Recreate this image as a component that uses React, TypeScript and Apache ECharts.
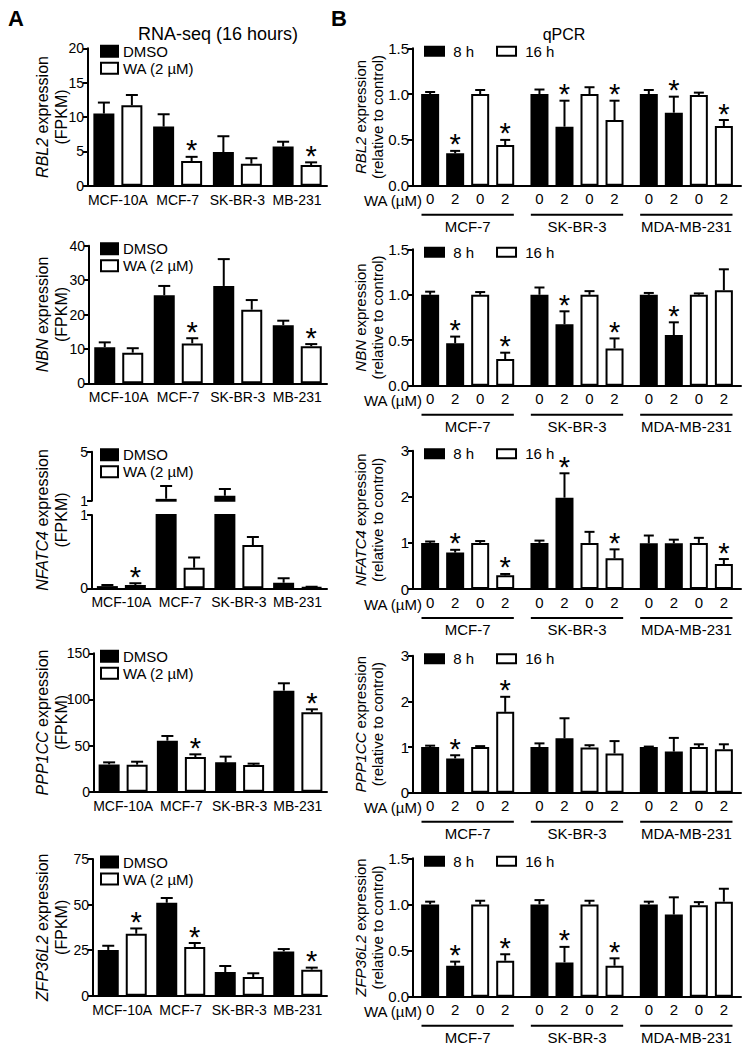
import React, { useEffect, useRef } from "react";
import * as echarts from "echarts";

const FONT = "'Liberation Sans', Arial, Helvetica, sans-serif";

// ---------------- Panel A : RNA-seq (16 hours), FPKM ----------------
const RNA_CELLS = ["MCF-10A", "MCF-7", "SK-BR-3", "MB-231"];
const RNA_GROUPS = ["DMSO", "WA (2 µM)"];
const RNA_GENES = ["RBL2", "NBN", "NFATC4", "PPP1CC", "ZFP36L2"];

const RNA_RBL2_DMSO = [10.5, 8.6, 4.9, 5.7];
const RNA_RBL2_DMSO_SEM = [1.6, 1.8, 2.3, 0.7];
const RNA_RBL2_WA = [11.7, 3.6, 3.2, 3.0];
const RNA_RBL2_WA_SEM = [1.5, 0.6, 0.8, 0.4];
const RNA_RBL2_SIG = [0, 1, 0, 1];

const RNA_NBN_DMSO = [10.5, 25.6, 28.3, 16.9];
const RNA_NBN_DMSO_SEM = [1.4, 2.7, 7.8, 1.3];
const RNA_NBN_WA = [8.9, 11.6, 21.4, 10.8];
const RNA_NBN_WA_SEM = [1.3, 1.5, 2.8, 0.6];
const RNA_NBN_SIG = [0, 1, 0, 1];

const RNA_NFATC4_DMSO = [0.03, 1.15, 1.4, 0.076];
const RNA_NFATC4_DMSO_SEM = [0.015, 1.05, 0.55, 0.06];
const RNA_NFATC4_WA = [0.045, 0.28, 0.59, 0.015];
const RNA_NFATC4_WA_SEM = [0.025, 0.14, 0.11, 0.005];
const RNA_NFATC4_SIG = [1, 0, 0, 0];

const RNA_PPP1CC_DMSO = [29.6, 55.3, 31.8, 109.5];
const RNA_PPP1CC_DMSO_SEM = [2.2, 5.1, 6.2, 8.0];
const RNA_PPP1CC_WA = [29.3, 37.6, 28.9, 86.0];
const RNA_PPP1CC_WA_SEM = [3.2, 2.9, 1.5, 3.3];
const RNA_PPP1CC_SIG = [0, 1, 0, 1];

const RNA_ZFP36L2_DMSO = [25.1, 51.0, 13.0, 24.3];
const RNA_ZFP36L2_DMSO_SEM = [2.3, 2.6, 3.3, 1.3];
const RNA_ZFP36L2_WA = [34.0, 26.7, 10.2, 14.3];
const RNA_ZFP36L2_WA_SEM = [2.9, 2.2, 2.1, 1.1];
const RNA_ZFP36L2_SIG = [1, 1, 0, 1];

const RNA_Y_MAX = [20, 40, 1, 150, 75];
const RNA_Y_STEP = [5, 10, 1, 50, 25];
const RNA_NFATC4_UPPER_TICKS = [1, 5];
const RNA_UNIT = "(FPKM)";

// ---------------- Panel B : qPCR (relative to control) ----------------
const QPCR_CELLS = ["MCF-7", "SK-BR-3", "MDA-MB-231"];
const QPCR_TIMES = ["8 h", "8 h", "16 h", "16 h"];
const QPCR_DOSES = ["0", "2", "0", "2"];
const QPCR_GENES = ["RBL2", "NBN", "NFATC4", "PPP1CC", "ZFP36L2"];
const QPCR_UNIT = "(relative to control)";

// rows: 8 h / 0 µM, 8 h / 2 µM, 16 h / 0 µM, 16 h / 2 µM ; columns: cell lines
const QPCR_RBL2_MEAN = [[1.0, 1.0, 1.0], [0.353, 0.644, 0.797], [1.0, 1.0, 0.99], [0.444, 0.717, 0.652]];
const QPCR_RBL2_SEM = [[0.023, 0.05, 0.045], [0.027, 0.284, 0.175], [0.045, 0.075, 0.026], [0.056, 0.211, 0.065]];
const QPCR_RBL2_SIG = [[0, 0, 0], [1, 1, 1], [0, 0, 0], [1, 1, 1]];

const QPCR_NBN_MEAN = [[1.0, 1.0, 1.0], [0.466, 0.675, 0.557], [1.0, 1.0, 1.0], [0.293, 0.41, 1.05]];
const QPCR_NBN_SEM = [[0.034, 0.08, 0.02], [0.074, 0.143, 0.14], [0.03, 0.04, 0.015], [0.07, 0.11, 0.23]];
const QPCR_NBN_SIG = [[0, 0, 0], [1, 1, 1], [0, 0, 0], [1, 1, 0]];

const QPCR_NFATC4_MEAN = [[1.0, 1.0, 0.99], [0.79, 1.98, 0.99], [1.0, 1.0, 1.0], [0.296, 0.665, 0.54]];
const QPCR_NFATC4_SEM = [[0.03, 0.05, 0.17], [0.06, 0.53, 0.08], [0.04, 0.24, 0.11], [0.03, 0.195, 0.11]];
const QPCR_NFATC4_SIG = [[0, 0, 0], [1, 1, 0], [0, 0, 0], [1, 1, 1]];

const QPCR_PPP1CC_MEAN = [[1.0, 1.0, 1.0], [0.75, 1.19, 0.9], [1.0, 0.99, 1.0], [1.77, 0.86, 0.95]];
const QPCR_PPP1CC_SEM = [[0.03, 0.08, 0.01], [0.07, 0.44, 0.3], [0.02, 0.05, 0.06], [0.33, 0.27, 0.11]];
const QPCR_PPP1CC_SIG = [[0, 0, 0], [1, 0, 0], [0, 0, 0], [1, 0, 0]];

const QPCR_ZFP36L2_MEAN = [[1.0, 1.0, 1.0], [0.336, 0.372, 0.89], [1.0, 1.0, 0.99], [0.39, 0.336, 1.03]];
const QPCR_ZFP36L2_SEM = [[0.03, 0.047, 0.03], [0.044, 0.168, 0.187], [0.04, 0.04, 0.035], [0.07, 0.08, 0.14]];
const QPCR_ZFP36L2_SIG = [[0, 0, 0], [1, 1, 0], [0, 0, 0], [1, 1, 0]];

const QPCR_Y_MAX = [1.5, 1.5, 3, 3, 1.5];
const QPCR_Y_STEP = [0.5, 0.5, 1, 1, 0.5];

// ---------------- layout (pixels) ----------------
const A_RIGHT = 327;
const A_NAME_X = [42, 61];
const A_LAYOUT = [
  { left: 88, top: 48.3, bottom: 185.7 },
  { left: 89, top: 245.7, bottom: 383.3 },
  { left: 92, top: 451.7, bottom: 588.3, upperBottom: 500.7, lowerTop: 515 },
  { left: 94, top: 653.3, bottom: 791.7 },
  { left: 93, top: 859, bottom: 995.7 },
];
const B_LEFT = 413;
const B_RIGHT = 741;
const B_NAME_X = [360, 377];
const B_LAYOUT = [
  { top: 48.3, bottom: 185.7 },
  { top: 249.3, bottom: 385.7 },
  { top: 450.7, bottom: 589 },
  { top: 655.7, bottom: 792.7 },
  { top: 858.3, bottom: 996.7 },
];

const A_BAR_W = 21;
const A_BAR_GAP = 0.333;
const B_BAR_W = 18;
const B_BAR_GAP = 0.39;

const AX_LINE = { show: true, onZero: false, lineStyle: { color: "#000", width: 2 } };
const Y_TICK = { show: true, length: 5, lineStyle: { color: "#000", width: 2 } };

function vText(text: string, x: number, y: number, size: number) {
  return {
    type: "text",
    x,
    y,
    rotation: Math.PI / 2,
    silent: true,
    style: {
      text,
      fill: "#000",
      fontFamily: FONT,
      fontSize: size,
      align: "center",
      verticalAlign: "middle",
      rich: {
        i: { fontStyle: "italic", fill: "#000", fontFamily: FONT, fontSize: size },
      },
    },
  };
}

function errSeries(xi: number, yi: number, means: number[], sems: number[], sig: number[], offset: number, capHalf: number, clip: boolean) {
  return {
    type: "custom",
    name: "sem",
    xAxisIndex: xi,
    yAxisIndex: yi,
    clip,
    silent: true,
    z: 5,
    data: means.map((m, i) => [i, m, sems[i], sig[i]]),
    renderItem: (_p: any, api: any) => {
      const c = api.value(0);
      const m = api.value(1);
      const e = api.value(2);
      const s = api.value(3);
      const p0 = api.coord([c, m]);
      const p1 = api.coord([c, m + e]);
      const x = p0[0] + offset;
      const st = { stroke: "#000", lineWidth: 2 };
      const children: any[] = [
        { type: "line", shape: { x1: x, y1: p0[1], x2: x, y2: p1[1] }, style: st },
        { type: "line", shape: { x1: x - capHalf, y1: p1[1], x2: x + capHalf, y2: p1[1] }, style: st },
      ];
      if (s) {
        children.push({
          type: "text",
          x,
          y: p1[1] + 8,
          style: {
            text: "*",
            fill: "#000",
            fontSize: 29,
            fontFamily: FONT,
            align: "center",
            verticalAlign: "bottom",
          },
        });
      }
      return { type: "group", children };
    },
  };
}

function buildOption() {
  const grid: any[] = [];
  const xAxis: any[] = [];
  const yAxis: any[] = [];
  const series: any[] = [];
  const legend: any[] = [];
  const graphic: any[] = [];

  const addGrid = (left: number, right: number, top: number, bottom: number) => {
    grid.push({ left, top, width: right - left, height: bottom - top, containLabel: false });
    return grid.length - 1;
  };

  const aBar = (name: string, data: any[], xi: number, yi: number, black: boolean) => ({
    type: "bar",
    name,
    xAxisIndex: xi,
    yAxisIndex: yi,
    data,
    barWidth: A_BAR_W,
    barGap: `${A_BAR_GAP * 100}%`,
    itemStyle: { color: black ? "#000" : "#fff", borderColor: "#000", borderWidth: 2 },
  });

  const aOff = (A_BAR_W * (1 + A_BAR_GAP)) / 2;

  // ---------------- Panel A ----------------
  const rna = [
    [RNA_RBL2_DMSO, RNA_RBL2_DMSO_SEM, RNA_RBL2_WA, RNA_RBL2_WA_SEM, RNA_RBL2_SIG],
    [RNA_NBN_DMSO, RNA_NBN_DMSO_SEM, RNA_NBN_WA, RNA_NBN_WA_SEM, RNA_NBN_SIG],
    [RNA_NFATC4_DMSO, RNA_NFATC4_DMSO_SEM, RNA_NFATC4_WA, RNA_NFATC4_WA_SEM, RNA_NFATC4_SIG],
    [RNA_PPP1CC_DMSO, RNA_PPP1CC_DMSO_SEM, RNA_PPP1CC_WA, RNA_PPP1CC_WA_SEM, RNA_PPP1CC_SIG],
    [RNA_ZFP36L2_DMSO, RNA_ZFP36L2_DMSO_SEM, RNA_ZFP36L2_WA, RNA_ZFP36L2_WA_SEM, RNA_ZFP36L2_SIG],
  ];

  rna.forEach((row, r) => {
    const [dmso, dmsoSem, wa, waSem, sig] = row;
    const L: any = A_LAYOUT[r];
    const xLabel = { color: "#000", fontFamily: FONT, fontSize: 14, margin: 7, interval: 0 };
    const yLabel = { color: "#000", fontFamily: FONT, fontSize: 14, lineHeight: 14, margin: 4 };
    const midY = (L.top + L.bottom) / 2;
    graphic.push(vText(`{i|${RNA_GENES[r]}} expression`, A_NAME_X[0], midY, 16));
    graphic.push(vText(RNA_UNIT, A_NAME_X[1], midY, 16));

    if (L.upperBottom) {
      // broken axis: lower part 0..1
      const gl = addGrid(L.left, A_RIGHT, L.lowerTop, L.bottom);
      xAxis.push({ gridIndex: gl, type: "category", data: RNA_CELLS, axisLine: AX_LINE, axisTick: { show: false }, axisLabel: xLabel });
      yAxis.push({
        gridIndex: gl, type: "value", min: 0, max: RNA_Y_MAX[r], interval: RNA_Y_STEP[r],
        splitLine: { show: false }, axisLine: AX_LINE, axisTick: Y_TICK, axisLabel: yLabel,
      });
      const xl = xAxis.length - 1;
      const yl = yAxis.length - 1;
      series.push(aBar(RNA_GROUPS[0], dmso, xl, yl, true));
      series.push(aBar(RNA_GROUPS[1], wa, xl, yl, false));
      series.push(errSeries(xl, yl, dmso, dmsoSem, sig.map(() => 0), -aOff, 6, true));
      series.push(errSeries(xl, yl, wa, waSem, sig, aOff, 6, true));

      // upper part 1..5
      const gu = addGrid(L.left, A_RIGHT, L.top, L.upperBottom);
      xAxis.push({ gridIndex: gu, type: "category", data: RNA_CELLS, show: false });
      yAxis.push({
        gridIndex: gu, type: "value",
        min: RNA_NFATC4_UPPER_TICKS[0], max: RNA_NFATC4_UPPER_TICKS[RNA_NFATC4_UPPER_TICKS.length - 1],
        splitLine: { show: false }, axisLine: AX_LINE,
        axisTick: { ...Y_TICK, customValues: RNA_NFATC4_UPPER_TICKS },
        axisLabel: { ...yLabel, customValues: RNA_NFATC4_UPPER_TICKS },
      });
      const xu = xAxis.length - 1;
      const yu = yAxis.length - 1;
      const lowMax = RNA_Y_MAX[r];
      series.push(aBar(RNA_GROUPS[0], dmso.map((v) => (v > lowMax ? v : "-")), xu, yu, true));
      series.push(aBar(RNA_GROUPS[1], wa.map((v) => (v > lowMax ? v : "-")), xu, yu, false));
      series.push(errSeries(xu, yu, dmso, dmsoSem, sig.map(() => 0), -aOff, 6, true));
      series.push(errSeries(xu, yu, wa, waSem, sig.map(() => 0), aOff, 6, true));
    } else {
      const g = addGrid(L.left, A_RIGHT, L.top, L.bottom);
      xAxis.push({ gridIndex: g, type: "category", data: RNA_CELLS, axisLine: AX_LINE, axisTick: { show: false }, axisLabel: xLabel });
      yAxis.push({
        gridIndex: g, type: "value", min: 0, max: RNA_Y_MAX[r], interval: RNA_Y_STEP[r],
        splitLine: { show: false }, axisLine: AX_LINE, axisTick: Y_TICK, axisLabel: yLabel,
      });
      const xi = xAxis.length - 1;
      const yi = yAxis.length - 1;
      series.push(aBar(RNA_GROUPS[0], dmso, xi, yi, true));
      series.push(aBar(RNA_GROUPS[1], wa, xi, yi, false));
      series.push(errSeries(xi, yi, dmso, dmsoSem, sig.map(() => 0), -aOff, 6, false));
      series.push(errSeries(xi, yi, wa, waSem, sig, aOff, 6, false));
    }

    legend.push({
      left: 100, top: L.top - 5, orient: "vertical", icon: "rect",
      itemWidth: 17, itemHeight: 11, itemGap: 1, padding: 0, selectedMode: false,
      data: RNA_GROUPS,
      textStyle: { color: "#000", fontFamily: FONT, fontSize: 15, lineHeight: 16 },
    });
  });

  // ---------------- Panel B ----------------
  const qpcr = [
    [QPCR_RBL2_MEAN, QPCR_RBL2_SEM, QPCR_RBL2_SIG],
    [QPCR_NBN_MEAN, QPCR_NBN_SEM, QPCR_NBN_SIG],
    [QPCR_NFATC4_MEAN, QPCR_NFATC4_SEM, QPCR_NFATC4_SIG],
    [QPCR_PPP1CC_MEAN, QPCR_PPP1CC_SEM, QPCR_PPP1CC_SIG],
    [QPCR_ZFP36L2_MEAN, QPCR_ZFP36L2_SEM, QPCR_ZFP36L2_SIG],
  ];
  const bPitch = B_BAR_W * (1 + B_BAR_GAP);

  qpcr.forEach((row, r) => {
    const [mean, sem, sig] = row;
    const L = B_LAYOUT[r];
    const g = addGrid(B_LEFT, B_RIGHT, L.top, L.bottom);
    const dec = QPCR_Y_STEP[r] < 1 ? 1 : 0;
    const midY = (L.top + L.bottom) / 2;
    graphic.push(vText(`{i|${QPCR_GENES[r]}} expression`, B_NAME_X[0], midY, 15));
    graphic.push(vText(QPCR_UNIT, B_NAME_X[1], midY, 15));

    xAxis.push({
      gridIndex: g, type: "category", data: QPCR_CELLS, axisLine: AX_LINE, axisTick: { show: false },
      axisLabel: { color: "#000", fontFamily: FONT, fontSize: 15, margin: 33, interval: 0 },
    });
    yAxis.push({
      gridIndex: g, type: "value", min: 0, max: QPCR_Y_MAX[r], interval: QPCR_Y_STEP[r],
      splitLine: { show: false }, axisLine: AX_LINE, axisTick: Y_TICK,
      axisLabel: { color: "#000", fontFamily: FONT, fontSize: 15, lineHeight: 14, margin: 4, formatter: (v: number) => v.toFixed(dec) },
    });
    const xi = xAxis.length - 1;
    const yi = yAxis.length - 1;
    mean.forEach((vals: number[], k: number) => {
      series.push({
        type: "bar",
        name: QPCR_TIMES[k],
        xAxisIndex: xi,
        yAxisIndex: yi,
        data: vals,
        barWidth: B_BAR_W,
        barGap: `${B_BAR_GAP * 100}%`,
        itemStyle: { color: k < 2 ? "#000" : "#fff", borderColor: "#000", borderWidth: 2 },
        label: {
          show: true, position: "bottom", distance: 6, formatter: QPCR_DOSES[k],
          color: "#000", fontFamily: FONT, fontSize: 15, lineHeight: 14,
        },
      });
    });
    mean.forEach((vals: number[], k: number) => {
      series.push(errSeries(xi, yi, vals, sem[k], sig[k], (k - 1.5) * bPitch, 5, false));
    });
    // group underline
    series.push({
      type: "custom",
      name: "underline",
      xAxisIndex: xi,
      yAxisIndex: yi,
      silent: true,
      clip: false,
      data: QPCR_CELLS.map((_c, i) => [i, 0]),
      renderItem: (_p: any, api: any) => {
        const c = api.coord([api.value(0), 0]);
        const bw = api.size([1, 0])[0];
        const half = bw / 2 - 8.5;
        const y = c[1] + 29;
        return { type: "line", shape: { x1: c[0] - half, y1: y, x2: c[0] + half, y2: y }, style: { stroke: "#000", lineWidth: 2 } };
      },
    });
    legend.push({
      left: 424, top: L.top - 5, orient: "horizontal", icon: "rect",
      itemWidth: 19, itemHeight: 9, itemGap: 22, padding: 0, selectedMode: false,
      data: ["8 h", "16 h"],
      formatter: (n: string) => " " + n,
      textStyle: { color: "#000", fontFamily: FONT, fontSize: 15, lineHeight: 16 },
    });
    graphic.push({
      type: "text", x: 422, y: L.bottom + 15,
      style: { text: "WA (µM)", fill: "#000", fontFamily: FONT, fontSize: 15, lineHeight: 14, align: "right", verticalAlign: "middle" },
    });
  });

  graphic.push(
    { type: "text", x: 8, y: 7, style: { text: "A", fill: "#000", fontFamily: FONT, fontSize: 22, fontWeight: "bold", align: "left", verticalAlign: "top" } },
    { type: "text", x: 331, y: 7, style: { text: "B", fill: "#000", fontFamily: FONT, fontSize: 22, fontWeight: "bold", align: "left", verticalAlign: "top" } },
    { type: "text", x: 218, y: 34, style: { text: "RNA-seq (16 hours)", fill: "#000", fontFamily: FONT, fontSize: 18, align: "center", verticalAlign: "middle" } },
    { type: "text", x: 564, y: 34, style: { text: "qPCR", fill: "#000", fontFamily: FONT, fontSize: 16, align: "center", verticalAlign: "middle" } }
  );

  return {
    animation: false,
    backgroundColor: "#fff",
    textStyle: { fontFamily: FONT },
    grid,
    xAxis,
    yAxis,
    series,
    legend,
    graphic,
  };
}

export default function App() {
  const ref = useRef<HTMLDivElement>(null);
  useEffect(() => {
    if (!ref.current) return;
    const chart = echarts.init(ref.current, null, { renderer: "svg" });
    chart.setOption(buildOption() as any);
    return () => chart.dispose();
  }, []);
  return <div ref={ref} style={{ position: "absolute", left: 0, top: 0, width: 744, height: 1050 }} />;
}
